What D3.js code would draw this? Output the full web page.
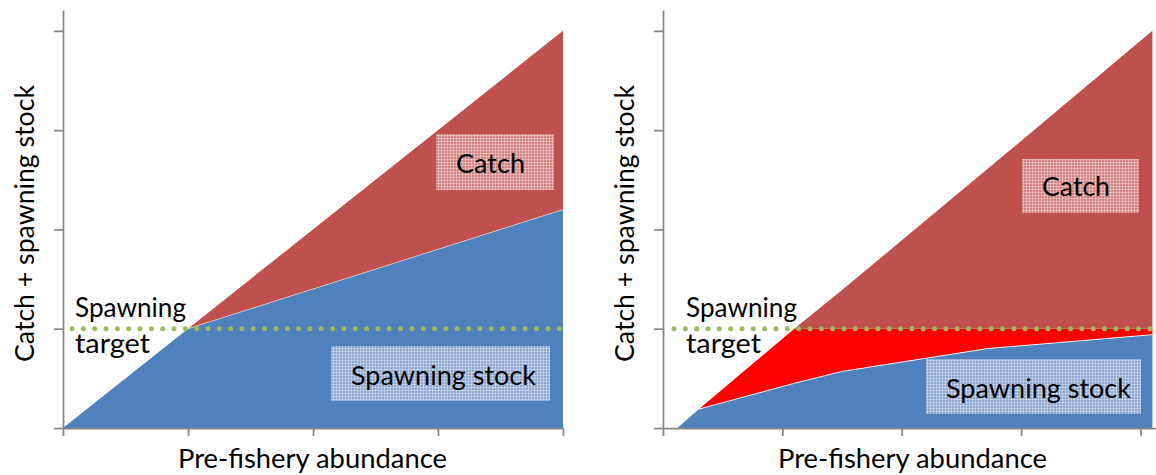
<!DOCTYPE html>
<html>
<head>
<meta charset="utf-8">
<script src="https://cdn.jsdelivr.net/npm/d3@7"></script>
<style>
  body { margin: 0; background: #fff; }
  text { font-family: Lato, "Open Sans", sans-serif; fill: #000; }
</style>
</head>
<body>
<svg id="chart" width="1156" height="475"></svg>
<script>
// left panel: constant escapement
const abundanceL = [0, 1, 4];
const stockL = [0, 1, 2.2];
const totalL = [0, 1, 4];

// right panel: stock falls short of the target
const abundanceR = [0.12, 0.3, 1.1, 1.5, 2.72, 4.1];
const stockR = [0, 0.19, 0.45, 0.57, 0.80, 0.94];
const totalR = [0, 0.19, 1.0, 1.39, 2.61, 4.0];

const spawningTarget = 1;
const xTicks = [0, 1, 2, 3, 4];
const yTicks = [0, 1, 2, 3, 4];

const blue = '#4F81BD', darkRed = '#C0504D', brightRed = '#FF0000', green = '#9BBB59', axisGrey = '#868686';

const svg = d3.select('#chart');

// grid patterns for the label boxes
const defs = svg.append('defs');
function gridPattern(id, base) {
    const p = defs.append('pattern').attr('id', id)
        .attr('width', 3).attr('height', 3).attr('patternUnits', 'userSpaceOnUse');
    p.append('rect').attr('width', 3).attr('height', 3).attr('fill', base);
    p.append('rect').attr('width', 3).attr('height', 1).attr('fill', '#fff').attr('opacity', 0.35);
    p.append('rect').attr('width', 1).attr('height', 3).attr('fill', '#fff').attr('opacity', 0.35);
}
gridPattern('gridRed', '#D4827F');
gridPattern('gridBlue', '#8DA9D2');

const y = d3.scaleLinear().domain([0, 4.21]).range([428, 10]);

function drawPanel(opts) {
    const g = svg.append('g').attr('transform', `translate(${opts.dx},0)`);
    const x = d3.scaleLinear().domain([0, opts.xMax]).range([63, opts.xEnd]);
    const rows = opts.abundance.map((a, i) => ({ a: a, stock: opts.stock[i], total: opts.total[i] }));

    // spawning stock
    g.append('path').datum(rows).attr('fill', blue)
        .attr('d', d3.area().x(d => x(d.a)).y0(y(0)).y1(d => y(d.stock)));

    if (opts.shortfall) {
        // shortfall below the target
        g.append('path').datum(rows).attr('fill', brightRed)
            .attr('d', d3.area().x(d => x(d.a)).y0(d => y(d.stock)).y1(d => y(Math.min(d.total, spawningTarget))));
        // catch above the target
        g.append('path').datum(rows).attr('fill', darkRed)
            .attr('d', d3.area().x(d => x(d.a)).y0(y(spawningTarget)).y1(d => y(Math.max(d.total, spawningTarget))));
    } else {
        g.append('path').datum(rows).attr('fill', darkRed)
            .attr('d', d3.area().x(d => x(d.a)).y0(d => y(d.stock)).y1(d => y(d.total)));
    }

    // thin light edge along the stock line
    g.append('path').datum(rows.filter(d => d.total > d.stock || d.a >= opts.edgeFrom))
        .attr('fill', 'none').attr('stroke', '#fff').attr('stroke-width', 1)
        .attr('opacity', opts.shortfall ? 0.9 : 0.5)
        .attr('d', d3.line().x(d => x(d.a)).y(d => y(d.stock)));

    // spawning target
    g.append('line')
        .attr('x1', opts.dotStart).attr('x2', opts.dotEnd)
        .attr('y1', y(spawningTarget)).attr('y2', y(spawningTarget))
        .attr('stroke', green).attr('stroke-width', 5)
        .attr('stroke-linecap', 'round').attr('stroke-dasharray', '0 11.33');

    // axes
    const yAxis = g.append('g').attr('transform', 'translate(63,0)')
        .call(d3.axisLeft(y).tickValues(yTicks).tickSize(9).tickSizeOuter(0).tickFormat(''));
    const xAxis = g.append('g').attr('transform', `translate(0,${y(0)})`)
        .call(d3.axisBottom(x).tickValues(xTicks).tickSize(8).tickSizeOuter(0).tickFormat(''));
    [yAxis, xAxis].forEach(a => {
        a.selectAll('path,line').attr('stroke', axisGrey).attr('stroke-width', 1.75);
    });

    // axis titles
    g.append('text')
        .attr('transform', 'translate(34,223.5) rotate(-90)')
        .attr('text-anchor', 'middle').attr('font-size', 26.5)
        .attr('textLength', 277).attr('lengthAdjust', 'spacingAndGlyphs')
        .text('Catch + spawning stock');
    g.append('text')
        .attr('x', opts.xTitle).attr('y', 468)
        .attr('text-anchor', 'middle').attr('font-size', 26.5)
        .attr('textLength', 269).attr('lengthAdjust', 'spacingAndGlyphs')
        .text('Pre-fishery abundance');

    // target label
    g.append('text').attr('x', opts.targetX).attr('y', 317).attr('font-size', 26)
        .attr('textLength', 111).attr('lengthAdjust', 'spacingAndGlyphs').text('Spawning');
    g.append('text').attr('x', opts.targetX).attr('y', 353).attr('font-size', 26)
        .attr('textLength', 75).attr('lengthAdjust', 'spacingAndGlyphs').text('target');

    // boxed labels
    opts.boxes.forEach(b => {
        g.append('rect').attr('x', b.x).attr('y', b.y).attr('width', b.w).attr('height', b.h)
            .attr('fill', `url(#${b.pattern})`);
        g.append('text').attr('x', b.tx).attr('y', b.ty).attr('font-size', 27.5)
            .attr('textLength', b.tw).attr('lengthAdjust', 'spacingAndGlyphs').text(b.label);
    });
}

drawPanel({
    dx: 0, xMax: 4, xEnd: 563,
    abundance: abundanceL, stock: stockL, total: totalL,
    shortfall: false, edgeFrom: 1,
    dotStart: 72, dotEnd: 563, xTitle: 312.5, targetX: 75,
    boxes: [
        { label: 'Catch', pattern: 'gridRed', x: 436, y: 134, w: 118, h: 56, tx: 456, ty: 172.5, tw: 69 },
        { label: 'Spawning stock', pattern: 'gridBlue', x: 331, y: 346, w: 219, h: 55, tx: 351, ty: 385, tw: 185 }
    ]
});

drawPanel({
    dx: 600, xMax: 4.13, xEnd: 556,
    abundance: abundanceR, stock: stockR, total: totalR,
    shortfall: true, edgeFrom: 0.3,
    dotStart: 74, dotEnd: 552, xTitle: 312.5, targetX: 86,
    boxes: [
        { label: 'Catch', pattern: 'gridRed', x: 422, y: 159, w: 117, h: 54, tx: 442, ty: 196, tw: 68 },
        { label: 'Spawning stock', pattern: 'gridBlue', x: 326, y: 359, w: 215, h: 55, tx: 346, ty: 397.5, tw: 185 }
    ]
});
</script>
</body>
</html>
